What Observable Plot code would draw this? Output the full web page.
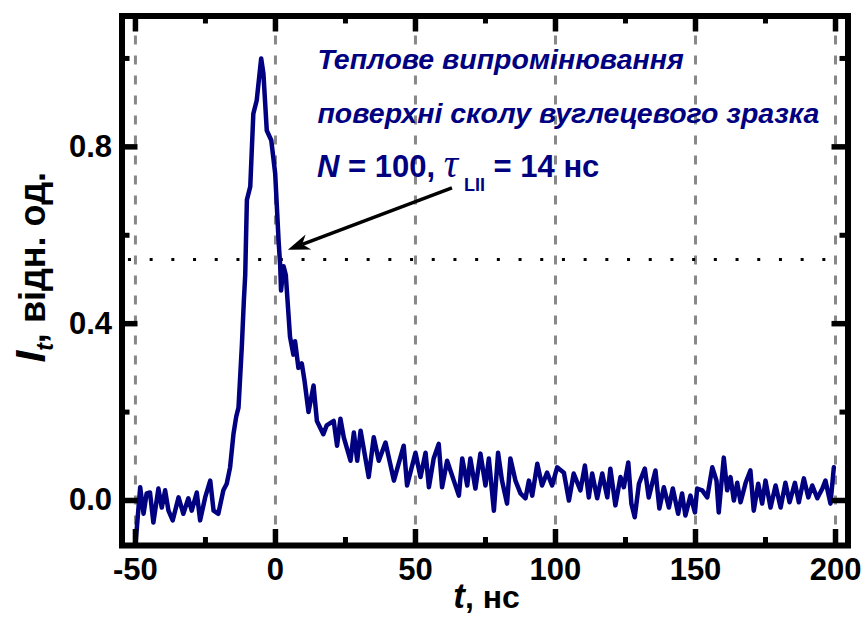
<!DOCTYPE html>
<html>
<head>
<meta charset="utf-8">
<script src="https://cdn.jsdelivr.net/npm/d3@7"></script>
<script src="https://cdn.jsdelivr.net/npm/@observablehq/plot@0.6"></script>
<style>
  html, body { margin: 0; padding: 0; background: #fff; }
  #chart { width: 865px; height: 619px; }
</style>
</head>
<body>
<div id="chart"></div>
<script>
// ---- data ----
const timeNs = [
  -50, -48.3, -47.1, -46, -44.8, -43.6, -41.8, -40.6, -39.4, -38.2, -36.7, -34.6, -32.9, -31.1, -29.9,
  -28.1, -26.9, -25.1, -23.3, -22.1, -20.4, -18.6, -17.4, -16.2, -15, -14, -13.2, -12, -11.3, -10.8,
  -10.2, -9, -7.9, -6.7, -5.1, -4.3, -3.1, -1.5, -0.1, 1.1, 1.7, 2.0, 2.9, 3.7, 5.2, 6.4, 7.0, 8.2,
  9.4, 10.4, 11.8, 13.6, 14.8, 17.1, 18.3, 20.8, 22, 23.2, 24.4, 26.8, 28, 29.2, 30.4, 33.3, 35.1,
  36.9, 39.3, 42.3, 45.8, 47, 50, 51.8, 53.6, 54.8, 56.5, 58.3, 59.5, 61.3, 63.7, 65.5, 66.7, 68.5,
  69.6, 71.4, 73.2, 75, 76.2, 78, 79.5, 80.9, 82.7, 83.9, 85.7, 87.5, 89.3, 90.5, 91.7, 93.5, 95.2,
  97, 98.8, 100.6, 103, 104.8, 106.5, 108.9, 110.5, 111.9, 113.1, 114.9, 116.7, 118.5, 119.6, 121.4,
  123.2, 124.4, 126, 127.1, 128.3, 129.8, 131.9, 133.3, 135.7, 137.1, 138.7, 140.5, 141.9, 143.8,
  145.2, 146.4, 148.2, 149.8, 150.6, 152.4, 154.2, 156, 157.5, 158.3, 160.1, 161.3, 162.5, 163.7,
  164.9, 166.1, 167.9, 169.6, 170.8, 172.4, 173.8, 175, 176.8, 178.6, 180.4, 182.1, 183.6, 185.5,
  186.9, 188.7, 190.3, 191.7, 193.5, 195.3, 196.4, 198.2, 199.4
];
const intensity = [
  -0.10, 0.03, -0.03, 0.016, 0.018, -0.05, 0.027, -0.016, 0.023, -0.023, -0.045, 0.007, -0.03, 0.005, -0.023,
  0.018, -0.045, 0.007, 0.045, -0.023, -0.03, 0.023, 0.038, 0.075, 0.15, 0.19, 0.21, 0.35, 0.45, 0.51,
  0.68, 0.71, 0.875, 0.905, 1.0, 0.966, 0.837, 0.815, 0.74, 0.59, 0.53, 0.475, 0.53, 0.51, 0.37, 0.33, 0.36, 0.30,
  0.31, 0.27, 0.20, 0.26, 0.18, 0.15, 0.17, 0.18, 0.124, 0.185, 0.143, 0.09, 0.154, 0.09, 0.158, 0.053, 0.143,
  0.09, 0.131, 0.045, 0.124, 0.034, 0.108, 0.053, 0.108, 0.03, 0.095, 0.128, 0.03, 0.09, 0.045, 0.011, 0.095, 0.034,
  0.095, 0.027, 0.106, 0.034, 0.095, -0.023, 0.108, 0.045, -0.007, 0.095, 0.045, 0.016, 0.005, 0.045, 0.011, 0.083, 0.034,
  0.063, 0.034, 0.075, 0.063, 0.0, 0.061, 0.023, 0.079, 0.007, 0.061, 0.005, 0.061, 0.007, 0.072, -0.011,
  0.053, 0.03, 0.086, -0.007, -0.038, 0.038, 0.072, 0.007, 0.068, -0.018, 0.03, -0.016, 0.027, -0.03,
  0.016, -0.034, 0.011, -0.027, 0.027, 0.023, 0.007, 0.075, 0.045, -0.027, 0.097, 0.023, 0.053, 0.0,
  0.04, -0.004, 0.04, 0.068, -0.023, 0.038, -0.007, 0.045, -0.016, 0.034, -0.016, 0.04, -0.004, 0.04,
  -0.004, 0.05, 0.007, 0.034, 0.005, 0.027, 0.045, -0.007, 0.075
];

const xMajorTicks = [-50, 0, 50, 100, 150, 200];
const xMajorLabels = ["-50", "0", "50", "100", "150", "200"];
const xMinorTicks = [-25, 25, 75, 125, 175];
const yMajorTicks = [0, 0.4, 0.8];
const yMajorLabels = ["0.0", "0.4", "0.8"];
const yMinorTicks = [0.2, 0.6, 1.0];
const thresholdLevel = [0.545];
const thresholdSpan = [-52.5, 200];

const annotationLines = ["Теплове випромінювання", "поверхні сколу вуглецевого зразка"];
const annotationX = 15;
const annotationY = [0.977, 0.855];
const line3Parts = { n: "N", eq1: " = 100, ", tau: "τ", sub: "LII", eq2: " = 14 нс" };
const line3Y = 0.731;
const arrowFrom = { t: 63.2, v: 0.706 };
const arrowTo = { t: 4.6, v: 0.566 };
const xTitle = { main: "t", rest: ", нс" };
const yTitle = { main: "I", sub: "t", rest: ", відн. од." };

// ---- build ----
const data = timeNs.map((t, i) => ({ t, v: intensity[i] }));
const W = 865, H = 619;
const mL = 121.5, mR = 17.5, mT = 15.5, mB = 74;
const innerW = W - mL - mR, innerH = H - mT - mB;
const NAVY = "#000080";
const FONT = "'Liberation Sans', Arial, Helvetica, sans-serif";

const line3Mark = (index, scales) => {
  const g = d3.create("svg:g");
  const tx = g.append("text")
    .attr("x", scales.x(annotationX)).attr("y", scales.y(line3Y))
    .attr("text-anchor", "start")
    .attr("fill", NAVY).attr("font-family", FONT).attr("font-weight", "bold").attr("font-size", 31);
  tx.append("tspan").attr("font-style", "italic").text(line3Parts.n);
  tx.append("tspan").style("white-space", "pre").text(line3Parts.eq1);
  tx.append("tspan").attr("font-family", "'Liberation Serif', 'Times New Roman', serif")
    .attr("font-style", "italic").attr("font-weight", "normal").attr("font-size", 40).text(line3Parts.tau);
  tx.append("tspan").attr("font-size", 18).attr("dx", 6).attr("dy", 14).text(line3Parts.sub);
  tx.append("tspan").attr("dy", -14).style("white-space", "pre").text(line3Parts.eq2);
  return g.node();
};

const arrowMark = (index, scales) => {
  const x1 = scales.x(arrowFrom.t), y1 = scales.y(arrowFrom.v);
  const x2 = scales.x(arrowTo.t), y2 = scales.y(arrowTo.v);
  const dx = x2 - x1, dy = y2 - y1, len = Math.hypot(dx, dy);
  const ux = dx / len, uy = dy / len, nx = -uy, ny = ux;
  const L = 22, Wd = 8;
  const bx = x2 - ux * L, by = y2 - uy * L;
  const g = d3.create("svg:g");
  g.append("line").attr("x1", x1).attr("y1", y1)
    .attr("x2", x2 - ux * L * 0.7).attr("y2", y2 - uy * L * 0.7)
    .attr("stroke", "black").attr("stroke-width", 3.5);
  g.append("path")
    .attr("d", `M${x2},${y2}L${bx + nx * Wd},${by + ny * Wd}L${x2 - ux * L * 0.7},${y2 - uy * L * 0.7}L${bx - nx * Wd},${by - ny * Wd}Z`)
    .attr("fill", "black");
  return g.node();
};

const axisTitlesMark = (index, scales, values, dims) => {
  const g = d3.create("svg:g").attr("font-family", FONT).attr("font-weight", "bold").attr("fill", "black");
  const cx = (dims.marginLeft + dims.width - dims.marginRight) / 2 + 2;
  const xt = g.append("text").attr("x", cx).attr("y", dims.height - dims.marginBottom + 63)
    .attr("text-anchor", "middle").attr("font-size", 32);
  xt.append("tspan").attr("font-style", "italic").attr("font-size", 35).text(xTitle.main);
  xt.append("tspan").style("white-space", "pre").text(xTitle.rest);
  const cy = (dims.marginTop + dims.height - dims.marginBottom) / 2 - 13;
  const yt = g.append("text").attr("transform", `translate(${dims.marginLeft - 77},${cy}) rotate(-90)`)
    .attr("text-anchor", "middle").attr("font-size", 36);
  yt.append("tspan").attr("font-style", "italic").attr("font-size", 42).text(yTitle.main);
  yt.append("tspan").attr("font-style", "italic").attr("font-size", 23).attr("dy", 8).text(yTitle.sub);
  yt.append("tspan").attr("dy", -8).style("white-space", "pre").text(yTitle.rest);
  return g.node();
};

const chart = Plot.plot({
  width: W, height: H,
  marginLeft: mL, marginRight: mR, marginTop: mT, marginBottom: mB,
  x: { domain: [-54.8, 204.46], axis: null },
  y: { domain: [-0.1018, 1.096], axis: null },
  style: { background: "white", fontFamily: FONT, overflow: "visible" },
  marks: [
    Plot.ruleX(xMajorTicks, { x: d => d, stroke: "#888", strokeWidth: 3, strokeDasharray: "9,11" }),
    Plot.ruleY(thresholdLevel, { y: d => d, x1: thresholdSpan[0], x2: thresholdSpan[1], stroke: "black", strokeWidth: 3, strokeDasharray: "3,18.7" }),
    Plot.line(data, { x: "t", y: "v", stroke: NAVY, strokeWidth: 4.5, strokeLinejoin: "round", clip: true }),
    // inward ticks
    Plot.ruleX(xMajorTicks, { x: d => d, insetTop: innerH - 16, stroke: "black", strokeWidth: 5.5 }),
    Plot.ruleX(xMajorTicks, { x: d => d, insetBottom: innerH - 16, stroke: "black", strokeWidth: 5.5 }),
    Plot.ruleX(xMinorTicks, { x: d => d, insetTop: innerH - 8, stroke: "black", strokeWidth: 5 }),
    Plot.ruleX(xMinorTicks, { x: d => d, insetBottom: innerH - 8, stroke: "black", strokeWidth: 5 }),
    Plot.ruleY(yMajorTicks, { y: d => d, insetRight: innerW - 16, stroke: "black", strokeWidth: 5.5 }),
    Plot.ruleY(yMajorTicks, { y: d => d, insetLeft: innerW - 16, stroke: "black", strokeWidth: 5.5 }),
    Plot.ruleY(yMinorTicks, { y: d => d, insetRight: innerW - 8, stroke: "black", strokeWidth: 5 }),
    Plot.ruleY(yMinorTicks, { y: d => d, insetLeft: innerW - 8, stroke: "black", strokeWidth: 5 }),
    Plot.frame({ stroke: "black", strokeWidth: 6 }),
    // tick labels
    Plot.text(xMajorTicks, { x: d => d, text: (d, i) => xMajorLabels[i], frameAnchor: "bottom", lineAnchor: "top", dy: 12, fontSize: 31, fontWeight: "bold", fill: "black" }),
    Plot.text(yMajorTicks, { y: d => d, text: (d, i) => yMajorLabels[i], frameAnchor: "left", textAnchor: "end", lineAnchor: "middle", dx: -10, fontSize: 31, fontWeight: "bold", fill: "black" }),
    // annotation
    Plot.text(annotationLines, { x: () => annotationX, y: (d, i) => annotationY[i], text: d => d, textAnchor: "start", lineAnchor: "bottom", fontSize: 28.5, fontWeight: "bold", fontStyle: "italic", fill: NAVY }),
    line3Mark,
    arrowMark,
    axisTitlesMark
  ]
});
document.getElementById("chart").appendChild(chart);
</script>
</body>
</html>
